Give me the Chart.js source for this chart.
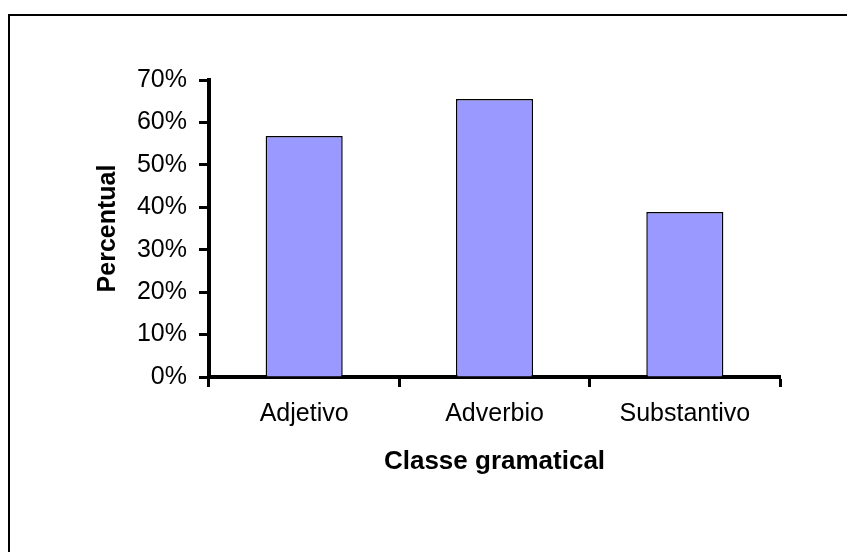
<!DOCTYPE html>
<html>
<head>
<meta charset="utf-8">
<script src="https://cdn.jsdelivr.net/npm/chart.js@4"></script>
<style>
  body { margin: 0; background: #fff; }
  canvas { display: block; }
</style>
</head>
<body>
<canvas id="canvas" width="847" height="552"></canvas>
<script>
var categories = ['Adjetivo', 'Adverbio', 'Substantivo'];
var percentual = [56.8, 65.5, 38.9];
var yTicks = [0, 10, 20, 30, 40, 50, 60, 70];

// frame round the whole chart, as in the original picture
var framePlugin = {
  id: 'frame',
  beforeDraw: function(chart){
    var ctx = chart.ctx;
    ctx.save();
    ctx.strokeStyle = '#000';
    ctx.lineWidth = 2;
    ctx.beginPath();
    ctx.moveTo(9, 900);
    ctx.lineTo(9, 15);
    ctx.lineTo(900, 15);
    ctx.stroke();
    ctx.restore();
  }
};

Chart.defaults.font.family = "'Liberation Sans', Arial, sans-serif";
Chart.defaults.color = '#000';

var ctx = document.getElementById('canvas').getContext('2d');
var myChart = new Chart(ctx, {
  type: 'bar',
  data: {
    labels: categories,
    datasets: [{
      label: 'Percentual',
      data: percentual,
      backgroundColor: '#9999FF',
      borderColor: '#000',
      borderWidth: 1.5,
      categoryPercentage: 1,
      barPercentage: 0.405
    }]
  },
  options: {
    responsive: false,
    animation: false,
    layout: {
      padding: { top: 80, right: 67, bottom: 0, left: 0 }
    },
    plugins: {
      legend: { display: false },
      tooltip: { enabled: false }
    },
    scales: {
      x: {
        afterFit: function(scale){ scale.height = 175; },
        grid: {
          drawOnChartArea: false,
          drawTicks: true,
          tickLength: 10,
          tickWidth: 3,
          tickColor: '#000'
        },
        border: { display: true, color: '#000', width: 4 },
        ticks: { font: { size: 25 }, padding: 12 },
        title: {
          display: true,
          text: 'Classe gramatical',
          font: { size: 26, weight: 'bold' },
          padding: { top: 0, bottom: 75 }
        }
      },
      y: {
        min: 0,
        max: 70,
        afterFit: function(scale){ scale.width = 209; },
        afterBuildTicks: function(scale){
          scale.ticks = yTicks.map(function(v){ return { value: v }; });
        },
        grid: {
          drawOnChartArea: false,
          drawTicks: true,
          tickLength: 10,
          tickWidth: 3,
          tickColor: '#000'
        },
        border: { display: true, color: '#000', width: 4 },
        ticks: {
          font: { size: 25 },
          padding: 12,
          callback: function(v){ return v + '%'; }
        },
        title: {
          display: true,
          text: 'Percentual',
          font: { size: 25, weight: 'bold' },
          padding: { top: 93, bottom: 0 }
        }
      }
    }
  },
  plugins: [framePlugin]
});
</script>
</body>
</html>
